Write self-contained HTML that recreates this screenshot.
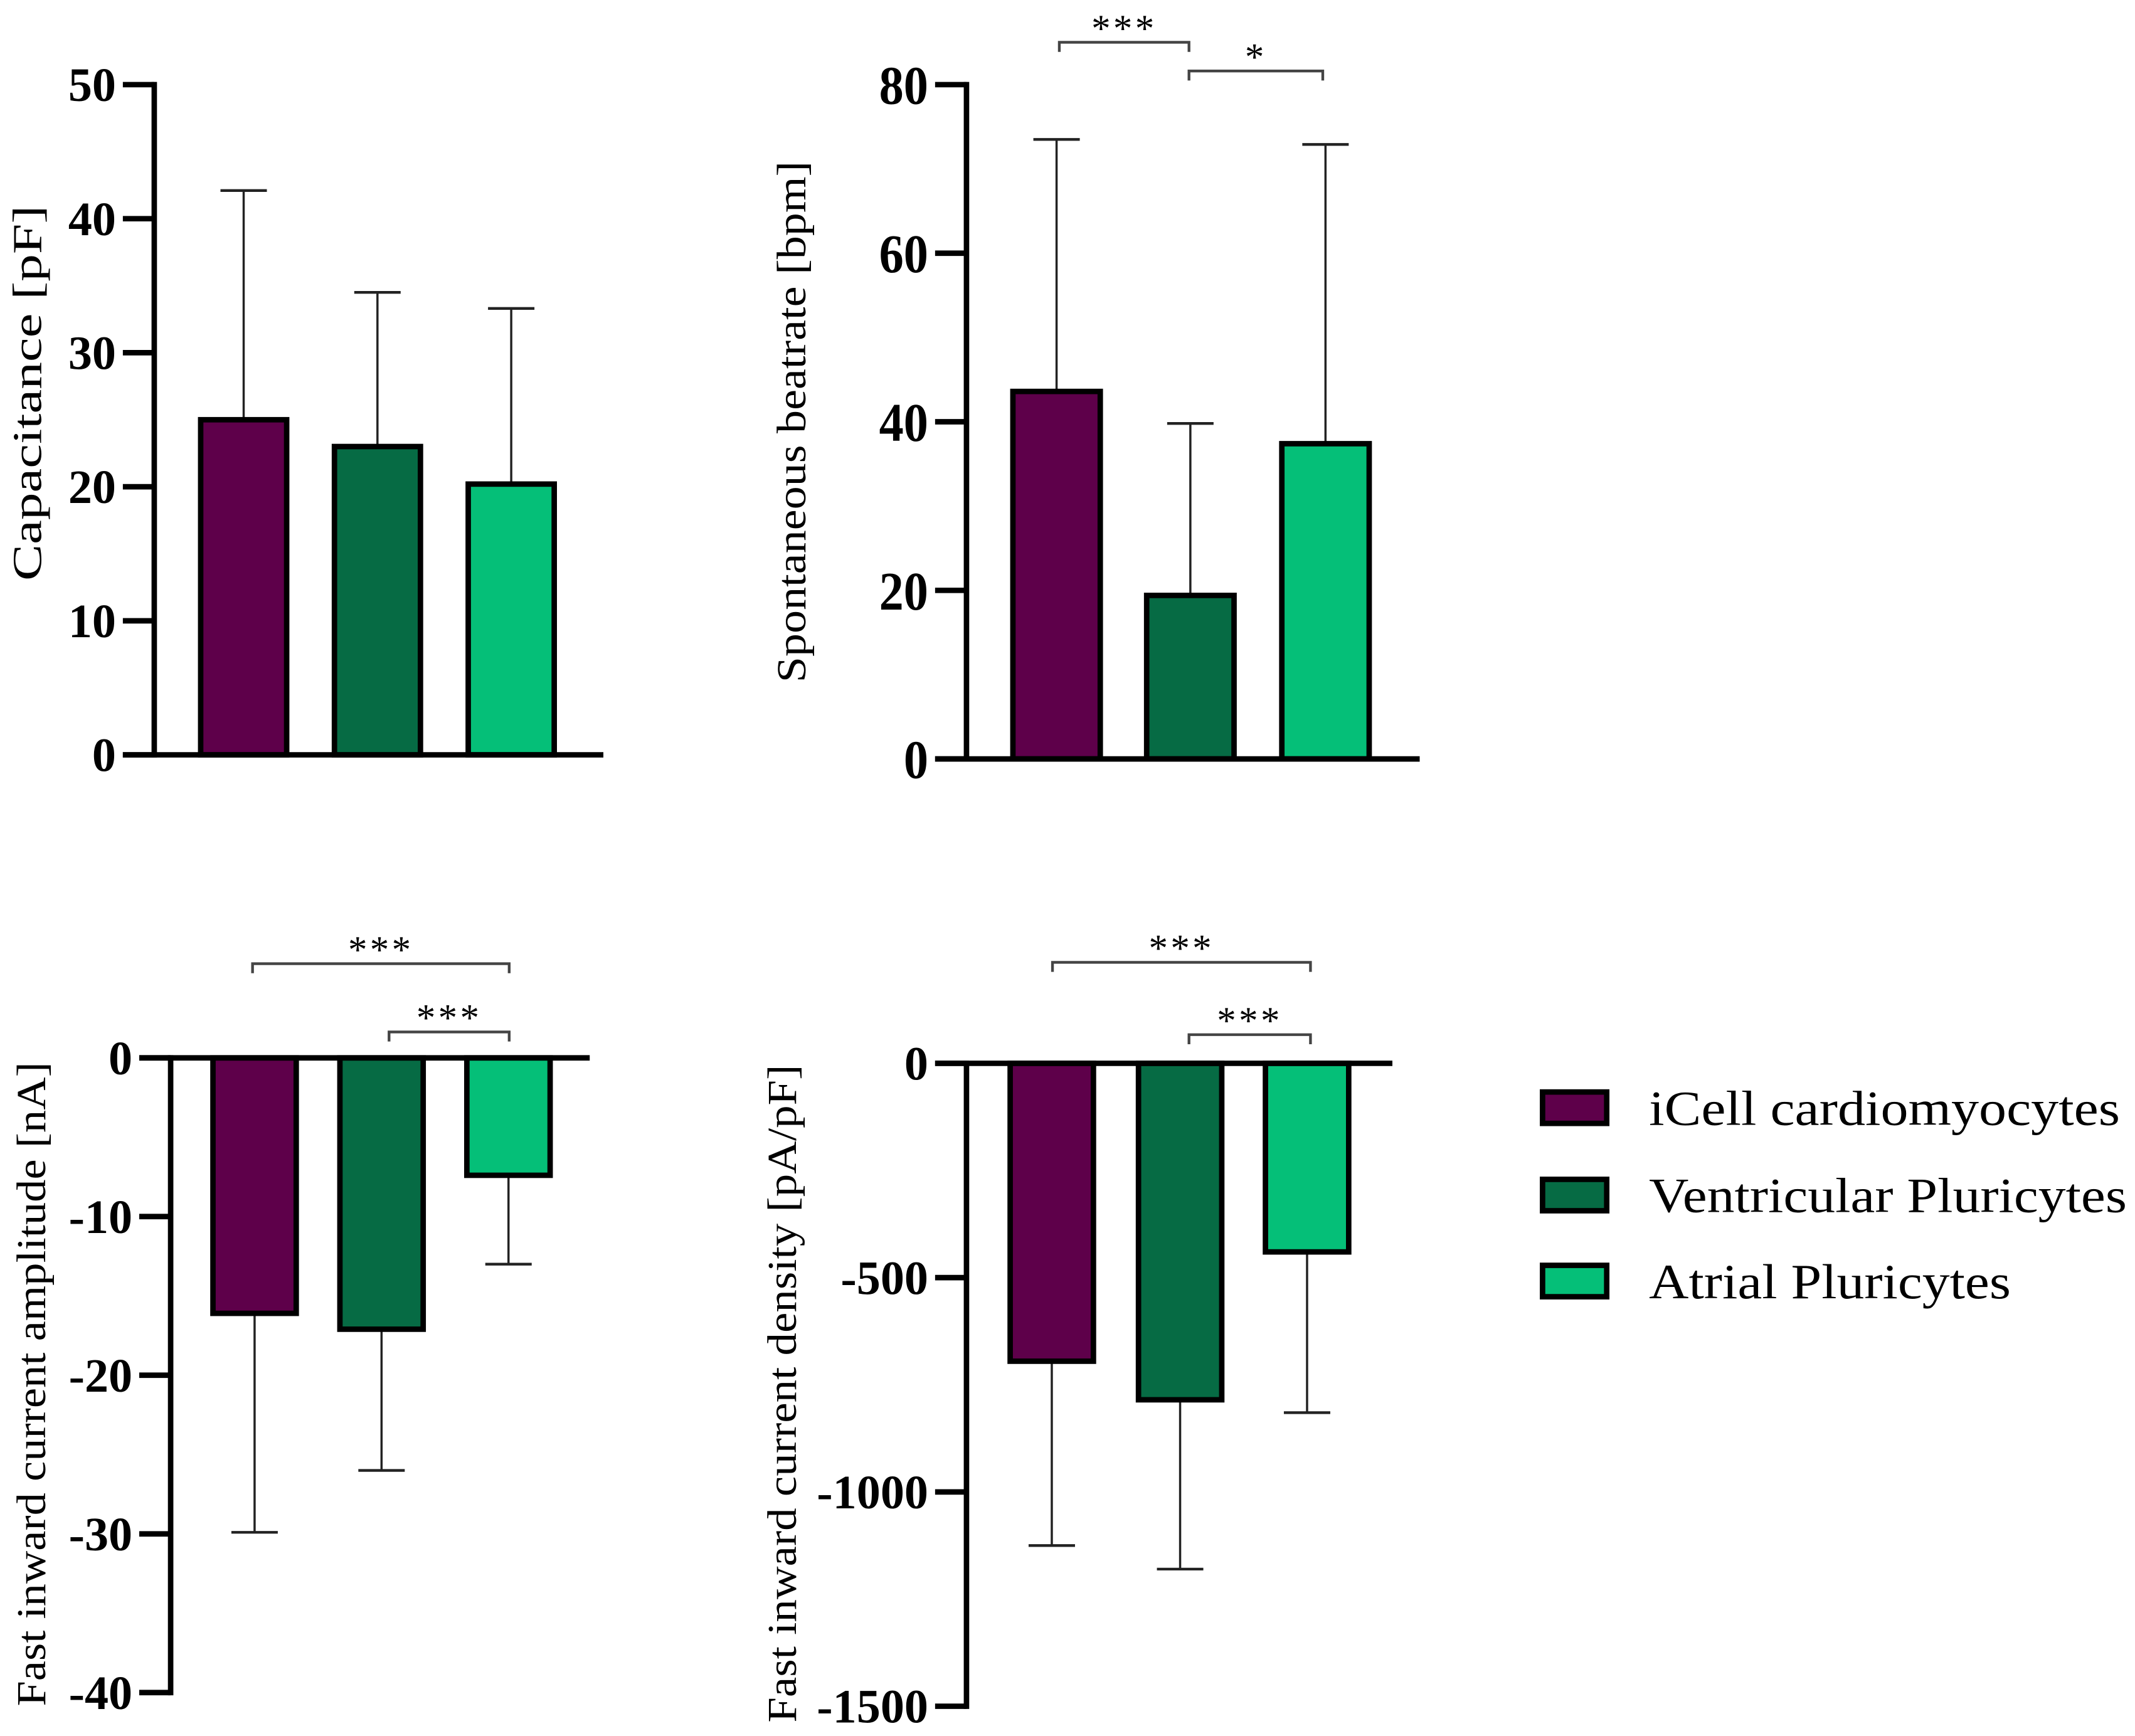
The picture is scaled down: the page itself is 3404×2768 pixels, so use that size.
<!DOCTYPE html>
<html><head><meta charset="utf-8"><style>
html,body{margin:0;padding:0;background:#fff;}
svg{display:block;}
text{font-family:"Liberation Serif","Times New Roman",serif;fill:#000;}
</style></head><body>
<svg id="chart" width="3404" height="2768" viewBox="0 0 1564 1271.8" preserveAspectRatio="none" xmlns="http://www.w3.org/2000/svg" font-family="Liberation Serif, serif"></svg>
<script>
const groups = ["iCell cardiomyocytes","Ventricular Pluricytes","Atrial Pluricytes"];
const colors = ["#5e004a","#066b44","#05bf78"];
const capMeans = [25.0, 23.0, 20.2];
const capSD = [17.1, 11.5, 13.1];
const capTicks = [0,10,20,30,40,50];
const beatMeans = [43.6, 19.4, 37.4];
const beatSD = [29.9, 20.4, 35.5];
const beatTicks = [0,20,40,60,80];
const ampMeans = [-16.1, -17.1, -7.4];
const ampSD = [13.8, 8.9, 5.6];
const ampTicks = [0,-10,-20,-30,-40];
const densMeans = [-695, -785, -440];
const densSD = [430, 395, 375];
const densTicks = [0,-500,-1000,-1500];

const svg = document.getElementById('chart');
const NS = "http://www.w3.org/2000/svg";
function mk(tag, attrs, parent){const e=document.createElementNS(NS,tag);for(const k in attrs)e.setAttribute(k,attrs[k]);(parent||svg).appendChild(e);return e;}

const panels = [
 {name:'capacitance', means:capMeans, sd:capSD, ticks:capTicks, ymin:0, ymax:50, ax:113, yTop:62, yBot:553, xEnd:442, barX:[147,245,343], bw:63, title:'Capacitance [pF]', tx:30, ty:288, tlen:275, narrow:false, sig:[]},
 {name:'beatrate', means:beatMeans, sd:beatSD, ticks:beatTicks, ymin:0, ymax:80, ax:708, yTop:62, yBot:556, xEnd:1040, barX:[742,840,939], bw:64, title:'Spontaneous beatrate [bpm]', tx:590, ty:309, tlen:382, narrow:true, sig:[{y:31,l:'***',x1:776,x2:871},{y:52,l:'*',x1:871,x2:969}]},
 {name:'amplitude', means:ampMeans, sd:ampSD, ticks:ampTicks, ymin:-40, ymax:0, ax:125, yTop:775, yBot:1240, xEnd:432, barX:[156,249,342], bw:61, title:'Fast inward current amplitude [nA]', tx:33, ty:1014, tlen:472, narrow:false, sig:[{y:706,l:'***',x1:185,x2:373},{y:756,l:'***',x1:285,x2:373}]},
 {name:'density', means:densMeans, sd:densSD, ticks:densTicks, ymin:-1500, ymax:0, ax:708, yTop:779, yBot:1250, xEnd:1020, barX:[740,834,927], bw:61, title:'Fast inward current density [pA/pF]', tx:583, ty:1021, tlen:482, narrow:false, sig:[{y:705,l:'***',x1:771,x2:960},{y:758,l:'***',x1:871,x2:960}]}
];

panels.forEach(p=>{
  const g = mk('g',{});
  
  
  const yScale = v => p.yBot - (v - p.ymin)/(p.ymax - p.ymin)*(p.yBot - p.yTop);
  const y0 = yScale(0);
  p.means.forEach((m,i)=>{
    const x = p.barX[i], cx = x + p.bw/2;
    const ym = yScale(m);
    const end = m>=0 ? m + p.sd[i] : m - p.sd[i];
    const ye = yScale(end);
    const eb = mk('g',{},g);
    
    
    mk('line',{x1:cx,x2:cx,y1:ym,y2:ye,stroke:'#222','stroke-width':1.6},eb);
    mk('line',{x1:cx-17,x2:cx+17,y1:ye,y2:ye,stroke:'#222','stroke-width':2},eb);
    const r = mk('rect',{x:x, y:Math.min(ym,y0), width:p.bw, height:Math.abs(y0-ym), fill:colors[i], stroke:'#000','stroke-width':4},g);
    
    
  });
  const ya = mk('line',{x1:p.ax,x2:p.ax,y1:p.yTop-2,y2:p.yBot+2,stroke:'#000','stroke-width':4},g);
  
  
  const xa = mk('line',{x1:p.ax-23,x2:p.xEnd,y1:y0,y2:y0,stroke:'#000','stroke-width':4},g);
  
  
  p.ticks.forEach(t=>{
    const y = yScale(t);
    mk('line',{x1:p.ax-23,x2:p.ax,y1:y,y2:y,stroke:'#000','stroke-width':4},g);
    const s = String(t);
    const attrs = {x:p.ax-28,y:y+12,'text-anchor':'end','font-size':p.narrow?40:35,'font-weight':'bold'};
    if(p.narrow){attrs.textLength = 18*s.length; attrs.lengthAdjust='spacingAndGlyphs'; attrs.y = y+14;}
    const tl = mk('text',attrs,g);
    tl.textContent = s;
    
    
  });
  const tt = mk('text',{x:0,y:0,'text-anchor':'middle','font-size':30,textLength:p.tlen,lengthAdjust:'spacingAndGlyphs',transform:'translate('+p.tx+','+p.ty+') rotate(-90)'},g);
  tt.textContent = p.title;
  
  
  p.sig.forEach(s=>{
    const sg = mk('g',{},g);
    
    
    mk('path',{d:'M'+s.x1+' '+(s.y+7)+' V'+s.y+' H'+s.x2+' V'+(s.y+7),fill:'none',stroke:'#444','stroke-width':2},sg);
    const st = mk('text',{x:(s.x1+s.x2)/2,y:s.y-1,'text-anchor':'middle','font-size':28,'letter-spacing':2},sg);
    st.textContent = s.l;
  });
});

const lg = mk('g',{});


const legY = [800,864,927];
const legW = [345,350,265];
groups.forEach((n,i)=>{
  const e = mk('g',{},lg);
  
  
  mk('rect',{x:1130,y:legY[i],width:47,height:23,fill:colors[i],stroke:'#000','stroke-width':4},e);
  const t = mk('text',{x:1208,y:legY[i]+24,'font-size':36,textLength:legW[i],lengthAdjust:'spacingAndGlyphs'},e);
  t.textContent = n;
});
</script>
</body></html>
